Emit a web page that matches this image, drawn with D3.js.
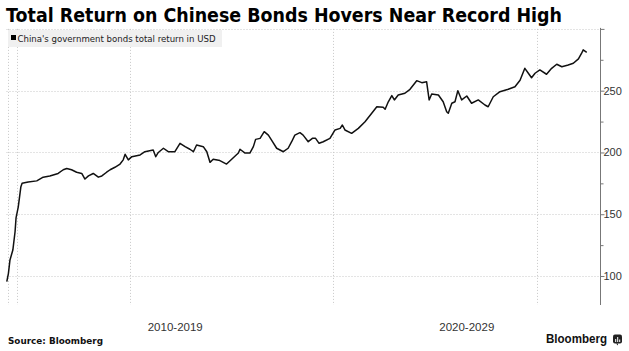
<!DOCTYPE html>
<html>
<head>
<meta charset="utf-8">
<script src="https://cdn.jsdelivr.net/npm/d3@7/dist/d3.min.js"></script>
<style>
  html, body { margin: 0; padding: 0; background: #fff; }
  svg { display: block; }
</style>
</head>
<body>
<svg id="chart" width="629" height="351"></svg>
<script>
// ---- Data (decimal years, index values) ----
const years = [
  2009.68, 2009.73, 2009.78, 2009.87, 2009.94, 2009.97, 2010.04, 2010.12, 2010.16, 2010.35,
  2010.62, 2010.82, 2011.03, 2011.29, 2011.45, 2011.56, 2011.71, 2011.87, 2012.03, 2012.13,
  2012.24, 2012.39, 2012.55, 2012.66, 2012.81, 2012.92, 2013.07, 2013.23, 2013.33, 2013.39,
  2013.49, 2013.60, 2013.86, 2014.01, 2014.27, 2014.35, 2014.43, 2014.59, 2014.74, 2014.95,
  2015.11, 2015.27, 2015.42, 2015.53, 2015.63, 2015.84, 2015.95, 2016.05, 2016.15, 2016.36,
  2016.57, 2016.73, 2016.94, 2016.99, 2017.15, 2017.30, 2017.41, 2017.48, 2017.62, 2017.75,
  2017.88, 2017.98, 2018.14, 2018.35, 2018.50, 2018.61, 2018.71, 2018.87, 2018.97, 2019.13,
  2019.26, 2019.36, 2019.47, 2019.60, 2019.81, 2019.97, 2020.13, 2020.20, 2020.28, 2020.49,
  2020.70, 2020.91, 2021.12, 2021.28, 2021.48, 2021.54, 2021.64, 2021.75, 2021.83, 2021.95,
  2022.16, 2022.32, 2022.53, 2022.69, 2022.84, 2022.92, 2023.00, 2023.21, 2023.36, 2023.47,
  2023.52, 2023.63, 2023.73, 2023.82, 2023.94, 2024.10, 2024.25, 2024.46, 2024.67, 2024.77,
  2024.93, 2025.14, 2025.40, 2025.61, 2025.77, 2025.92, 2026.03, 2026.13, 2026.24, 2026.39,
  2026.60, 2026.76, 2026.92, 2027.08, 2027.28, 2027.44, 2027.60, 2027.70, 2027.75, 2027.86
];
const totalReturn = [
  95.4, 102, 113, 121, 136, 147, 156, 172, 175, 176,
  177, 180, 181, 183, 186, 187, 186, 184, 183, 178.5,
  181, 183, 180, 181, 184, 186, 188, 190.6, 194, 198.5,
  194, 196.6, 198, 200.6, 202, 196.6, 200, 203.4, 200.6, 200.6,
  207.4, 204.7, 202.6, 200.6, 206, 204.7, 200.6, 192, 194.5, 193.4,
  190.6, 194.5, 199.5, 202.6, 199.5, 199.5, 204.7, 210.6, 211.4, 216.8,
  214, 210, 203.4, 200.6, 203.4, 208.7, 214, 216, 214, 208.7,
  211.4, 211.4, 207.4, 208.7, 211.4, 218.2, 219.5, 222.2, 218.2, 215.5,
  219.5, 224.9, 231.7, 237, 236.6, 235, 241, 246, 242.5, 246.5,
  247.9, 251.1, 258.1, 256.5, 257.3, 242.5, 247.3, 246.5, 241, 233,
  231.7, 239.8, 241, 250, 242.5, 245.7, 239.8, 242.5, 238.4, 237,
  245.1, 249.2, 251.1, 253.2, 258.5, 268.1, 264.1, 260.5, 264.1, 266.8,
  263.3, 268.1, 271.4, 269.4, 270.8, 272.2, 275.7, 280.3, 283, 281.1
];
const gridYears = [2009.727, 2010.009, 2013.542, 2019.915, 2026.292];
const decadeLabels = ["2010-2019", "2020-2029"];
const decadeLabelYears = [2014.96, 2024.10];
const yMajorTicks = [100, 150, 200, 250, 300];
const yMinorTicks = [125, 175, 225, 275];
const yLabelTicks = [100, 150, 200, 250];
const seriesName = "China's government bonds total return in USD";
const titleText = "Total Return on Chinese Bonds Hovers Near Record High";
const sourceText = "Source: Bloomberg";

(function draw() {
  const svg = d3.select("#chart");
  const pL = 6.5, pR = 600, pT = 28.9, pB = 306.9, gridBottom = 305;

  const x = d3.scaleLinear().domain([2009.671, 2028.276]).range([pL, pR]);
  const y = d3.scaleLinear().domain([75, 300]).range([pB, pT]);

  // Title
  svg.append("text")
    .attr("x", 6).attr("y", 22)
    .attr("font-family", "DejaVu Sans, sans-serif")
    .attr("font-weight", "bold")
    .attr("font-size", 19)
    .attr("fill", "#000")
    .attr("textLength", 556)
    .attr("lengthAdjust", "spacingAndGlyphs")
    .text(titleText);

  // Grid
  const grid = svg.append("g").attr("stroke", "#c8c8c8").attr("stroke-width", 1).attr("stroke-dasharray", "1,2");
  grid.selectAll("line.h").data(yMajorTicks).join("line")
    .attr("class", "h")
    .attr("x1", pL).attr("x2", pR)
    .attr("y1", d => Math.round(y(d)) + 0.5).attr("y2", d => Math.round(y(d)) + 0.5);
  grid.selectAll("line.v").data(gridYears).join("line")
    .attr("class", "v")
    .attr("x1", d => Math.round(x(d)) + 0.5).attr("x2", d => Math.round(x(d)) + 0.5)
    .attr("y1", pT).attr("y2", gridBottom);

  // Legend
  const lg = svg.append("g");
  lg.append("rect").attr("x", 8).attr("y", 30).attr("width", 214).attr("height", 17).attr("fill", "#f0f0f0");
  lg.append("rect").attr("x", 11).attr("y", 35).attr("width", 5).attr("height", 5).attr("fill", "#000");
  lg.append("text").attr("x", 17.5).attr("y", 41.5)
    .attr("font-family", "Liberation Sans Narrow, DejaVu Sans Condensed, sans-serif")
    .attr("font-size", 9.5).attr("fill", "#222")
    .attr("textLength", 198).attr("lengthAdjust", "spacingAndGlyphs")
    .text(seriesName);

  // Line
  const line = d3.line().x((d, i) => x(years[i])).y(d => y(d)).curve(d3.curveLinear);
  svg.append("path")
    .datum(totalReturn)
    .attr("d", line)
    .attr("fill", "none")
    .attr("stroke", "#111")
    .attr("stroke-width", 1.5)
    .attr("stroke-linejoin", "round");

  // Right axis
  const axisG = svg.append("g").attr("transform", `translate(${pR + 0.5},0)`);
  axisG.append("line").attr("x1", 0).attr("x2", 0).attr("y1", pT - 1).attr("y2", gridBottom).attr("stroke", "#777").attr("stroke-width", 1);
  const majorAxis = d3.axisRight(y).tickValues(yMajorTicks).tickSize(4)
    .tickFormat(d => yLabelTicks.includes(d) ? d : "");
  const maj = axisG.append("g").call(majorAxis);
  maj.select(".domain").remove();
  maj.selectAll(".tick line").attr("stroke", "#777");
  maj.selectAll(".tick text")
    .attr("x", 3)
    .attr("font-family", "Liberation Sans, Arial, sans-serif")
    .attr("font-size", 11).attr("fill", "#333");
  const minorAxis = d3.axisRight(y).tickValues(yMinorTicks).tickSize(3).tickFormat("");
  const mino = axisG.append("g").call(minorAxis);
  mino.select(".domain").remove();
  mino.selectAll(".tick line").attr("stroke", "#777");

  // Decade labels
  svg.selectAll("text.dec").data(decadeLabels).join("text")
    .attr("class", "dec")
    .attr("x", (d, i) => x(decadeLabelYears[i]))
    .attr("y", 330.5)
    .attr("text-anchor", "middle")
    .attr("font-family", "Liberation Sans, Arial, sans-serif")
    .attr("font-size", 11.5).attr("fill", "#333")
    .text(d => d);

  // Source
  svg.append("text").attr("x", 8).attr("y", 344)
    .attr("font-family", "DejaVu Sans, sans-serif")
    .attr("font-weight", "bold").attr("font-size", 9.5).attr("fill", "#111")
    .attr("textLength", 95).attr("lengthAdjust", "spacingAndGlyphs")
    .text(sourceText);

  // Bloomberg logo
  svg.append("text").attr("x", 546).attr("y", 343)
    .attr("font-family", "Liberation Sans, Arial, sans-serif")
    .attr("font-weight", "bold").attr("font-size", 12).attr("fill", "#111")
    .attr("textLength", 61).attr("lengthAdjust", "spacingAndGlyphs")
    .text("Bloomberg");
  const icon = svg.append("g").attr("transform", "translate(613,334.5)");
  icon.append("rect").attr("width", 9).attr("height", 9).attr("rx", 2).attr("fill", "#222");
  icon.append("path").attr("d", "M3,9 L5,11 L5,9 Z").attr("fill", "#222");
  [[2.2, 4.5, 3], [4.2, 2.5, 5], [6.2, 5, 2.5]].forEach(b => {
    icon.append("rect").attr("x", b[0]).attr("y", b[1]).attr("width", 1).attr("height", b[2]).attr("fill", "#fff");
  });
})();
</script>
</body>
</html>
